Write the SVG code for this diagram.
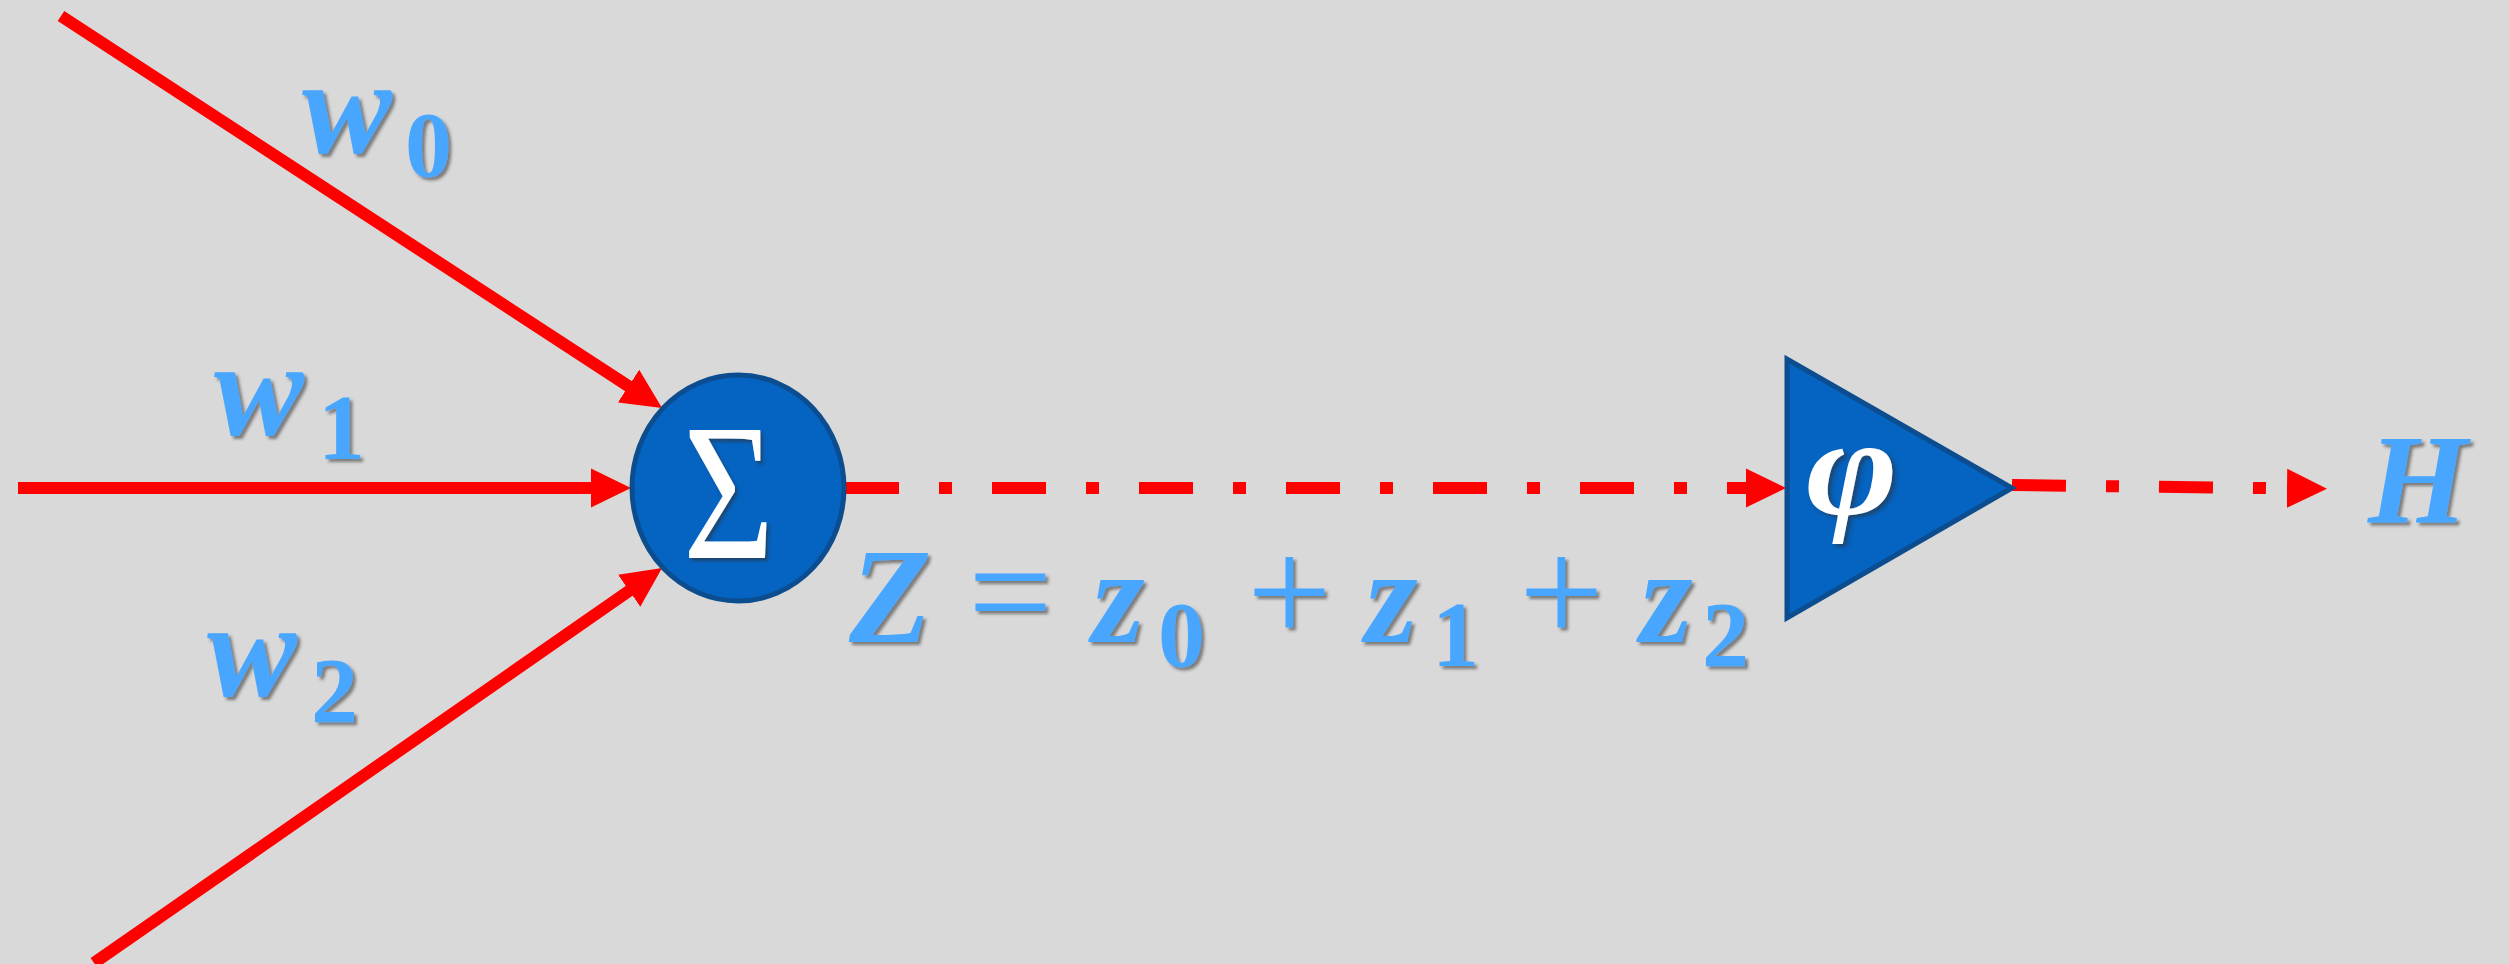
<svg xmlns="http://www.w3.org/2000/svg" width="2509" height="964" viewBox="0 0 2509 964">
<defs>
<style>
.lbl{font-family:"Liberation Serif","Times New Roman",serif;fill:#4AA6FF;filter:url(#sh)}
.it{font-style:italic;font-weight:bold;font-size:135px}
.sub{font-style:normal;font-weight:bold;font-size:94px}
.op{font-style:normal;font-weight:normal;font-size:150px}
.wt{font-family:"Liberation Serif","Times New Roman",serif;fill:#FFFFFF;filter:url(#sh)}
.shape{fill:#0563C1;stroke:#0B4D8E;stroke-width:5}
.ln{fill:none;stroke:#FF0000;stroke-width:12}
.dd{stroke-dasharray:54 40 13 40}
</style>
<filter id="sh" x="-20%" y="-20%" width="140%" height="140%">
<feDropShadow dx="3" dy="3" stdDeviation="1.8" flood-color="#303030" flood-opacity="0.55"/>
</filter>
<marker id="ah" markerUnits="userSpaceOnUse" viewBox="0 0 40 40" markerWidth="40" markerHeight="40" refX="20" refY="20" orient="auto">
<path d="M0,0.5 L40,20 L0,39.5 Z" fill="#FF0000"/>
</marker>
</defs>
<rect x="0" y="0" width="2509" height="964" fill="#D9D9D9"/>

<g id="connectors">
<line class="ln" x1="61" y1="16" x2="645.3" y2="397.1" marker-end="url(#ah)"/>
<line class="ln" x1="18" y1="488" x2="611" y2="488" marker-end="url(#ah)"/>
<line class="ln" x1="94" y1="963" x2="645.6" y2="579.4" marker-end="url(#ah)"/>
<line class="ln dd" x1="845" y1="488" x2="1766" y2="488" marker-end="url(#ah)"/>
<line class="ln dd" x1="2012" y1="485" x2="2307" y2="488.6" marker-end="url(#ah)"/>
</g>

<g id="sum-node">
<ellipse class="shape" cx="738" cy="488" rx="106" ry="113"/>
<text class="wt" transform="translate(683,558) scale(0.8,1)" x="0" y="0" font-size="196">Σ</text>
</g>

<g id="activation-node">
<polygon class="shape" points="1787,359 1787,618 2012,488"/>
<text class="wt" transform="translate(1806,514) scale(1.12,1)" x="0" y="0" font-size="140" font-style="italic" font-weight="bold">φ</text>
</g>

<g id="label-w0">
<text class="lbl"><tspan class="it" x="302" y="153">w</tspan><tspan class="sub" x="405" y="176">0</tspan></text>
</g>
<g id="label-w1">
<text class="lbl"><tspan class="it" x="214" y="435">w</tspan><tspan class="sub" x="318" y="459">1</tspan></text>
</g>
<g id="label-w2">
<text class="lbl"><tspan class="it" x="207" y="696">w</tspan><tspan class="sub" x="311" y="722">2</tspan></text>
</g>
<g id="label-formula">
<text class="lbl"><tspan class="it" x="849" y="642">Z</tspan><tspan class="op" x="968" y="642">=</tspan><tspan class="it" x="1092" y="642">z</tspan><tspan class="sub" x="1158" y="666">0</tspan><tspan class="op" x="1247" y="642">+</tspan><tspan class="it" x="1365" y="642">z</tspan><tspan class="sub" x="1432" y="666">1</tspan><tspan class="op" x="1519" y="642">+</tspan><tspan class="it" x="1640" y="642">z</tspan><tspan class="sub" x="1702" y="666">2</tspan></text>
</g>
<g id="label-H">
<text class="lbl" x="2368" y="522" font-size="128" font-style="italic" font-weight="bold">H</text>
</g>
</svg>
